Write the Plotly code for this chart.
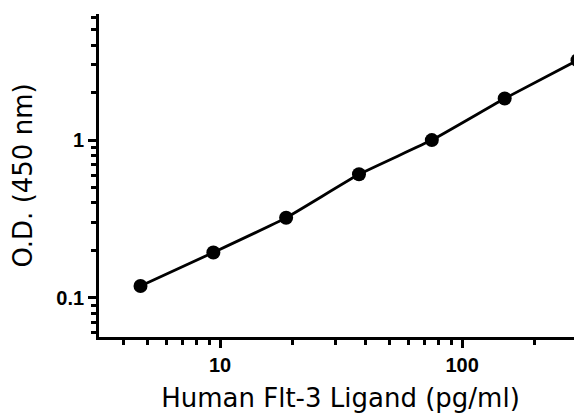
import numpy as np
import plotly.graph_objects as go

conc = [4.69, 9.38, 18.75, 37.5, 75, 150, 300]
od = [0.119, 0.194, 0.322, 0.607, 1.0, 1.836, 3.21]

x_major = [10, 100]
x_major_text = ["<b>10</b>", "<b>100</b>"]
y_major = [0.1, 1]
y_major_text = ["<b>0.1</b>", "<b>1</b>"]
x_minor = [4, 5, 6, 7, 8, 9, 20, 30, 40, 50, 60, 70, 80, 90, 200, 300]
y_minor = [0.06, 0.07, 0.08, 0.09, 0.2, 0.3, 0.4, 0.5, 0.6, 0.7, 0.8, 0.9, 2, 3, 4, 5, 6]

fig = go.Figure()
fig.add_trace(go.Scatter(
    x=conc, y=od, mode="lines+markers",
    line=dict(color="black", width=2.8, shape="spline", smoothing=0.3),
    marker=dict(color="black", size=14),
    cliponaxis=False, showlegend=False,
))

axis_common = dict(
    showgrid=False, zeroline=False, showline=True, linecolor="black", linewidth=2.7,
    ticks="outside", ticklen=8, tickwidth=2.7, tickcolor="black", automargin=False,
    tickfont=dict(family="Arial", size=20, color="black"),
)
title_font = dict(family="DejaVu Sans", size=26, color="black")

# page has an 8px body margin; figure is sized/offset to compensate
fig.update_layout(
    width=574, height=407,
    margin=dict(l=91, r=0, t=6, b=78),
    paper_bgcolor="white", plot_bgcolor="white",
    xaxis=dict(
        type="log", range=[np.log10(3.16), np.log10(313)],
        tickmode="array", tickvals=x_major, ticktext=x_major_text,
        minor=dict(tickmode="array", tickvals=x_minor, ticks="outside", ticklen=5, tickwidth=2.7, tickcolor="black"),
        title=dict(text="Human Flt-3 Ligand (pg/ml)", font=title_font, standoff=14),
        **axis_common,
    ),
    yaxis=dict(
        type="log", range=[np.log10(0.0565), np.log10(6.3)],
        tickmode="array", tickvals=y_major, ticktext=y_major_text,
        minor=dict(tickmode="array", tickvals=y_minor, ticks="outside", ticklen=5, tickwidth=2.7, tickcolor="black"),
        title=dict(text="O.D. (450 nm)", font=title_font, standoff=22),
        **axis_common,
    ),
)

fig.write_html("out.html")
